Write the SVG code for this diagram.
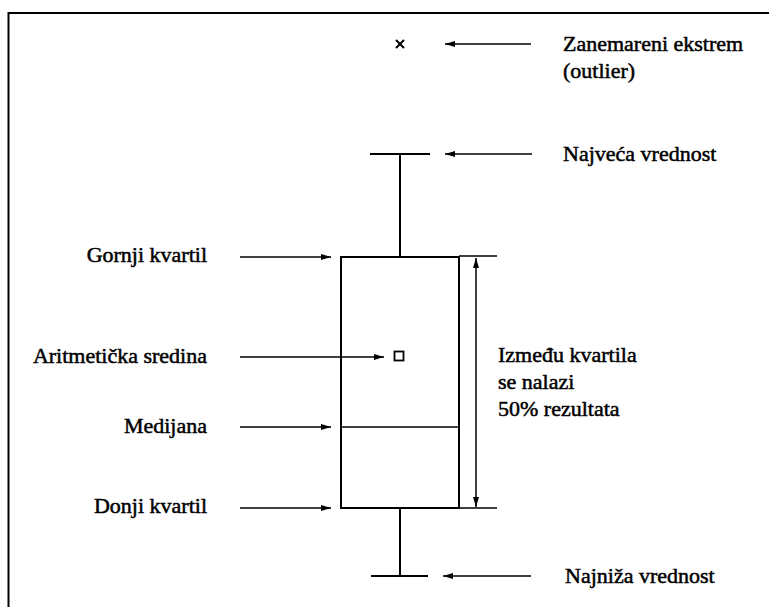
<svg xmlns="http://www.w3.org/2000/svg" width="769" height="607" viewBox="0 0 769 607">
<style>
  .t { font-size: 22px; fill: #000; stroke: #000; stroke-width: 0.5; }
  .r { text-anchor: end; }
  .ln { stroke: #000; stroke-width: 2; fill: none; }
  .thin { stroke: #000; stroke-width: 1.5; fill: none; }
  .ar { stroke: #000; stroke-width: 1.5; fill: none; }
</style>
<defs>
  <marker id="ah" viewBox="0 0 10 6" refX="10" refY="3" markerWidth="10" markerHeight="6" markerUnits="userSpaceOnUse" orient="auto-start-reverse">
    <path d="M0,0 L10,3 L0,6 z" fill="#000"/>
  </marker>
</defs>
<rect width="769" height="607" fill="#fff"/>
<g id="frame">
  <path class="ln" d="M8.5,607 V13 H769"/>
</g>
<g id="boxplot">
  <line class="ln" x1="400" y1="154" x2="400" y2="257"/>
  <line class="ln" x1="370" y1="154" x2="430" y2="154"/>
  <rect class="ln" x="341" y="257" width="118" height="251"/>
  <line class="thin" x1="341" y1="427" x2="459" y2="427"/>
  <line class="ln" x1="400" y1="508" x2="400" y2="576"/>
  <line class="ln" x1="371" y1="576" x2="428" y2="576"/>
  <line class="thin" x1="459" y1="256" x2="497" y2="256"/>
  <line class="thin" x1="459" y1="508" x2="497" y2="508"/>
  <rect x="394.5" y="351.5" width="9" height="9" fill="none" stroke="#000" stroke-width="1.8"/>
  <path d="M396,40 L404,48 M404,40 L396,48" stroke="#000" stroke-width="2" fill="none"/>
</g>
<g id="connectors">
  <line class="ar" x1="531" y1="44" x2="445" y2="44" marker-end="url(#ah)"/>
  <line class="ar" x1="532" y1="154" x2="445" y2="154" marker-end="url(#ah)"/>
  <line class="ar" x1="531" y1="576" x2="443" y2="576" marker-end="url(#ah)"/>
  <line class="ar" x1="240" y1="257" x2="331" y2="257" marker-end="url(#ah)"/>
  <line class="ar" x1="240" y1="357" x2="384" y2="357" marker-end="url(#ah)"/>
  <line class="ar" x1="240" y1="427" x2="331" y2="427" marker-end="url(#ah)"/>
  <line class="ar" x1="240" y1="508" x2="331" y2="508" marker-end="url(#ah)"/>
  <line class="ar" x1="476" y1="258" x2="476" y2="507" marker-start="url(#ah)" marker-end="url(#ah)"/>
</g>
<g id="label-outlier">
  <text class="t" font-family="Liberation Serif" x="563" y="51">Zanemareni ekstrem</text>
  <text class="t" font-family="Liberation Serif" x="563" y="78">(outlier)</text>
</g>
<g id="label-max"><text class="t" font-family="Liberation Serif" x="563" y="161">Najveća vrednost</text></g>
<g id="label-q3"><text class="t r" font-family="Liberation Serif" x="207" y="262">Gornji kvartil</text></g>
<g id="label-mean"><text class="t r" font-family="Liberation Serif" x="207" y="363">Aritmetička sredina</text></g>
<g id="label-median"><text class="t r" font-family="Liberation Serif" x="207" y="433">Medijana</text></g>
<g id="label-q1"><text class="t r" font-family="Liberation Serif" x="207" y="513">Donji kvartil</text></g>
<g id="label-iqr">
  <text class="t" font-family="Liberation Serif" x="498" y="362">Između kvartila</text>
  <text class="t" font-family="Liberation Serif" x="498" y="389">se nalazi</text>
  <text class="t" font-family="Liberation Serif" x="498" y="416">50% rezultata</text>
</g>
<g id="label-min"><text class="t" font-family="Liberation Serif" x="565" y="583">Najniža vrednost</text></g>
</svg>
